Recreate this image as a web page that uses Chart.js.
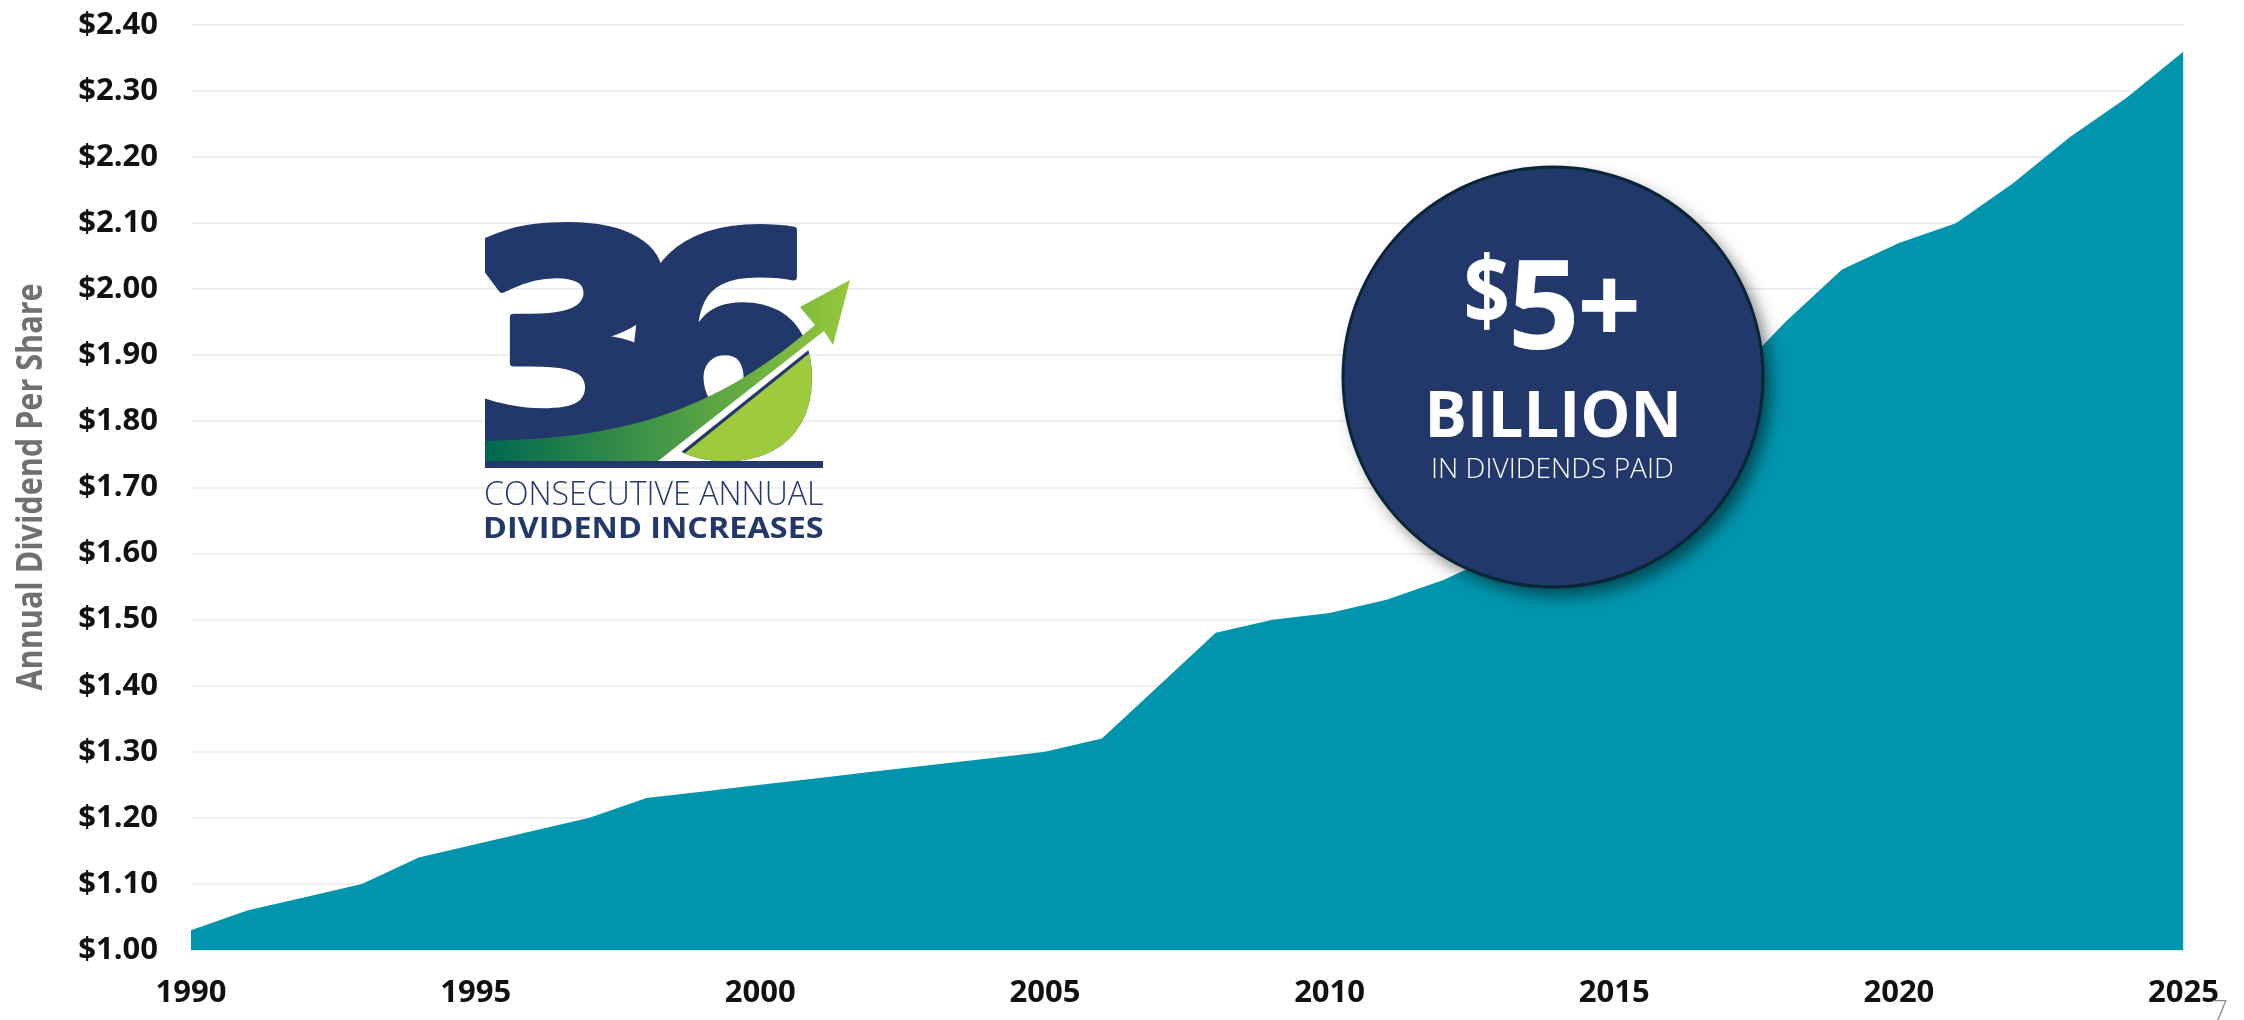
<!DOCTYPE html>
<html>
<head>
<meta charset="utf-8">
<script src="https://cdn.jsdelivr.net/npm/chart.js@4.4.1/dist/chart.umd.min.js"></script>
<style>
  html, body { margin: 0; padding: 0; background: #fff; }
  #area { width: 2244px; height: 1020px; }
</style>
</head>
<body>
<div id="area"><canvas id="graficoDividendos" width="2244" height="1020"></canvas></div>
<script>
// Dividendo anual por ação, 1990 - 2025
const anos = [1990, 1991, 1992, 1993, 1994, 1995, 1996, 1997, 1998, 1999,
              2000, 2001, 2002, 2003, 2004, 2005, 2006, 2007, 2008, 2009,
              2010, 2011, 2012, 2013, 2014, 2015, 2016, 2017, 2018, 2019,
              2020, 2021, 2022, 2023, 2024, 2025];
const dividendos = [1.03, 1.06, 1.08, 1.10, 1.14, 1.16, 1.18, 1.20, 1.23, 1.24,
                    1.25, 1.26, 1.27, 1.28, 1.29, 1.30, 1.32, 1.40, 1.48, 1.50,
                    1.51, 1.53, 1.56, 1.60, 1.65, 1.71, 1.78, 1.86, 1.95, 2.03,
                    2.07, 2.10, 2.16, 2.23, 2.29, 2.36];
// anos que aparecem no eixo x
const anosMarcados = [1990, 1995, 2000, 2005, 2010, 2015, 2020, 2025];
// eixo y: de $1.00 a $2.40, de 10 em 10 centavos
const eixoY = { min: 1.0, max: 2.4, passo: 0.1 };
const tituloEixoY = "Annual Dividend Per Share";

const AZUL = '#22376a';
const TEAL = '#0095ad';
const VERDE_LIMA = '#9dcb3b';

// desenha um texto esticado dentro de uma caixa (x0..x1, topo..base)
function encaixaTexto(ctx, texto, fonte, cor, x0, x1, topo, base, contorno) {
  ctx.save();
  ctx.font = fonte;
  ctx.textAlign = 'left';
  ctx.textBaseline = 'alphabetic';
  const m = ctx.measureText(texto);
  const larg = m.actualBoundingBoxLeft + m.actualBoundingBoxRight;
  const alt = m.actualBoundingBoxAscent + m.actualBoundingBoxDescent;
  ctx.translate(x0, topo);
  ctx.scale((x1 - x0) / larg, (base - topo) / alt);
  ctx.fillStyle = cor;
  ctx.fillText(texto, m.actualBoundingBoxLeft, m.actualBoundingBoxAscent);
  if (contorno) {
    // engrossa o traço
    ctx.strokeStyle = cor;
    ctx.lineWidth = contorno;
    ctx.lineJoin = 'round';
    ctx.strokeText(texto, m.actualBoundingBoxLeft, m.actualBoundingBoxAscent);
  }
  ctx.restore();
}

// título do eixo y, girado 90 graus
function tituloVertical(ctx, texto, fonte, cor, x0, x1, topo, base) {
  ctx.save();
  ctx.translate(x0, base);
  ctx.rotate(-Math.PI / 2);
  encaixaTexto(ctx, texto, fonte, cor, 0, base - topo, 0, x1 - x0);
  ctx.restore();
}

// logo "36 consecutive annual dividend increases"
function desenhaLogo(ctx) {
  const fonteNum = '800 300px "Open Sans"';

  // o 3 tem as pontas cortadas retas do lado esquerdo
  ctx.save();
  ctx.beginPath();
  ctx.rect(485, 200, 400, 280);
  ctx.clip();
  encaixaTexto(ctx, '3', fonteNum, AZUL, 470, 668, 222, 462, 6);
  ctx.restore();
  encaixaTexto(ctx, '6', fonteNum, AZUL, 636, 811, 224, 460, 6);

  // parte de baixo do 6 em verde
  ctx.save();
  ctx.beginPath();
  ctx.moveTo(664, 470);
  ctx.lineTo(836, 332);
  ctx.lineTo(900, 332);
  ctx.lineTo(900, 470);
  ctx.closePath();
  ctx.clip();
  encaixaTexto(ctx, '6', fonteNum, VERDE_LIMA, 636, 811, 224, 460, 6);
  ctx.restore();

  // vão branco entre a seta e o 6
  ctx.save();
  ctx.strokeStyle = '#ffffff';
  ctx.lineWidth = 8;
  ctx.beginPath();
  ctx.moveTo(660, 464);
  ctx.lineTo(826, 331);
  ctx.stroke();
  ctx.restore();

  // seta com degradê
  const grad = ctx.createLinearGradient(485, 0, 850, 0);
  grad.addColorStop(0, '#00674f');
  grad.addColorStop(0.45, '#3f9447');
  grad.addColorStop(1, '#96c83c');
  ctx.save();
  ctx.fillStyle = grad;
  ctx.beginPath();
  ctx.moveTo(485, 441);
  ctx.bezierCurveTo(600, 438, 700, 425, 815, 325);
  ctx.lineTo(800, 307);
  ctx.lineTo(850, 280);
  ctx.lineTo(833, 345);
  ctx.lineTo(824, 331);
  ctx.lineTo(658, 461);
  ctx.lineTo(485, 461);
  ctx.closePath();
  ctx.fill();
  ctx.restore();

  ctx.fillStyle = AZUL;
  ctx.fillRect(485, 461, 338, 7);

  encaixaTexto(ctx, 'CONSECUTIVE ANNUAL', '300 32px "Open Sans"', AZUL, 485, 823, 482, 505);
  encaixaTexto(ctx, 'DIVIDEND INCREASES', '700 32px "Open Sans"', AZUL, 485, 823, 517, 538);
}

// selo "$5+ billion"
function desenhaSelo(ctx) {
  const cx = 1553, cy = 377, r = 210;
  ctx.save();
  ctx.shadowColor = 'rgba(0, 0, 0, 0.5)';
  ctx.shadowBlur = 16;
  ctx.shadowOffsetX = 8;
  ctx.shadowOffsetY = 9;
  ctx.beginPath();
  ctx.arc(cx, cy, r, 0, Math.PI * 2);
  ctx.fillStyle = AZUL;
  ctx.fill();
  ctx.restore();

  ctx.save();
  ctx.beginPath();
  ctx.arc(cx, cy, r, 0, Math.PI * 2);
  ctx.strokeStyle = '#0a2536';
  ctx.lineWidth = 3;
  ctx.stroke();
  ctx.restore();

  const negrito = '700 120px "Open Sans"';
  encaixaTexto(ctx, '$', negrito, '#ffffff', 1467, 1507, 252, 330);
  encaixaTexto(ctx, '5', negrito, '#ffffff', 1513, 1575, 260, 350);
  encaixaTexto(ctx, '+', negrito, '#ffffff', 1582, 1637, 278, 332);
  encaixaTexto(ctx, 'BILLION', '700 68px "Open Sans"', '#ffffff', 1430, 1677, 390, 438);
  encaixaTexto(ctx, 'IN DIVIDENDS PAID', '300 28px "Open Sans"', '#ffffff', 1433, 1673, 458, 478);
}

const decoracao = {
  id: 'decoracao',
  afterDraw(chart) {
    const ctx = chart.ctx;
    const area = chart.chartArea;
    // título do eixo y centrado na altura do gráfico
    const meio = (area.top + area.bottom) / 2;
    tituloVertical(ctx, tituloEixoY, '700 36px "Open Sans"', '#707070', 15, 42, meio - 203, meio + 203);
    desenhaLogo(ctx);
    desenhaSelo(ctx);
    // número da página
    encaixaTexto(ctx, '7', '300 30px "Open Sans"', '#8c8c8c', 2213, 2227, 1000, 1021);
  }
};

function criaGrafico() {
  const ctx = document.getElementById('graficoDividendos').getContext('2d');
  new Chart(ctx, {
    type: 'line',
    data: {
      labels: anos,
      datasets: [{
        data: dividendos,
        fill: 'start',
        backgroundColor: TEAL,
        borderWidth: 0,
        pointRadius: 0,
        tension: 0
      }]
    },
    options: {
      responsive: false,
      animation: false,
      devicePixelRatio: 1,
      layout: { padding: { left: 0, right: 59, top: 25, bottom: 0 } },
      plugins: { legend: { display: false }, tooltip: { enabled: false } },
      scales: {
        x: {
          afterFit: function (escala) { escala.height = 70; },
          grid: { display: false, drawTicks: false },
          border: { display: false },
          ticks: {
            autoSkip: false,
            maxRotation: 0,
            padding: 25,
            color: '#111111',
            font: { family: 'Open Sans', size: 31, weight: '700' },
            callback: function (valor, i) {
              const ano = anos[i];
              return anosMarcados.includes(ano) ? String(ano) : '';
            }
          }
        },
        y: {
          min: eixoY.min,
          max: eixoY.max,
          afterFit: function (escala) {
            escala.width = 191;
            // o topo fica só pelo padding do layout
            escala.paddingTop = 0;
            escala.paddingBottom = 0;
          },
          grid: { color: '#efefef', lineWidth: 2, drawTicks: false },
          border: { display: false },
          ticks: {
            stepSize: eixoY.passo,
            padding: 33,
            color: '#111111',
            font: { family: 'Open Sans', size: 31, weight: '700' },
            callback: function (valor) { return '$' + valor.toFixed(2); }
          }
        }
      }
    },
    plugins: [decoracao]
  });
}

Promise.all([
  document.fonts.load('300 30px "Open Sans"'),
  document.fonts.load('600 30px "Open Sans"'),
  document.fonts.load('700 30px "Open Sans"'),
  document.fonts.load('800 30px "Open Sans"')
]).then(criaGrafico, criaGrafico);
</script>
</body>
</html>
